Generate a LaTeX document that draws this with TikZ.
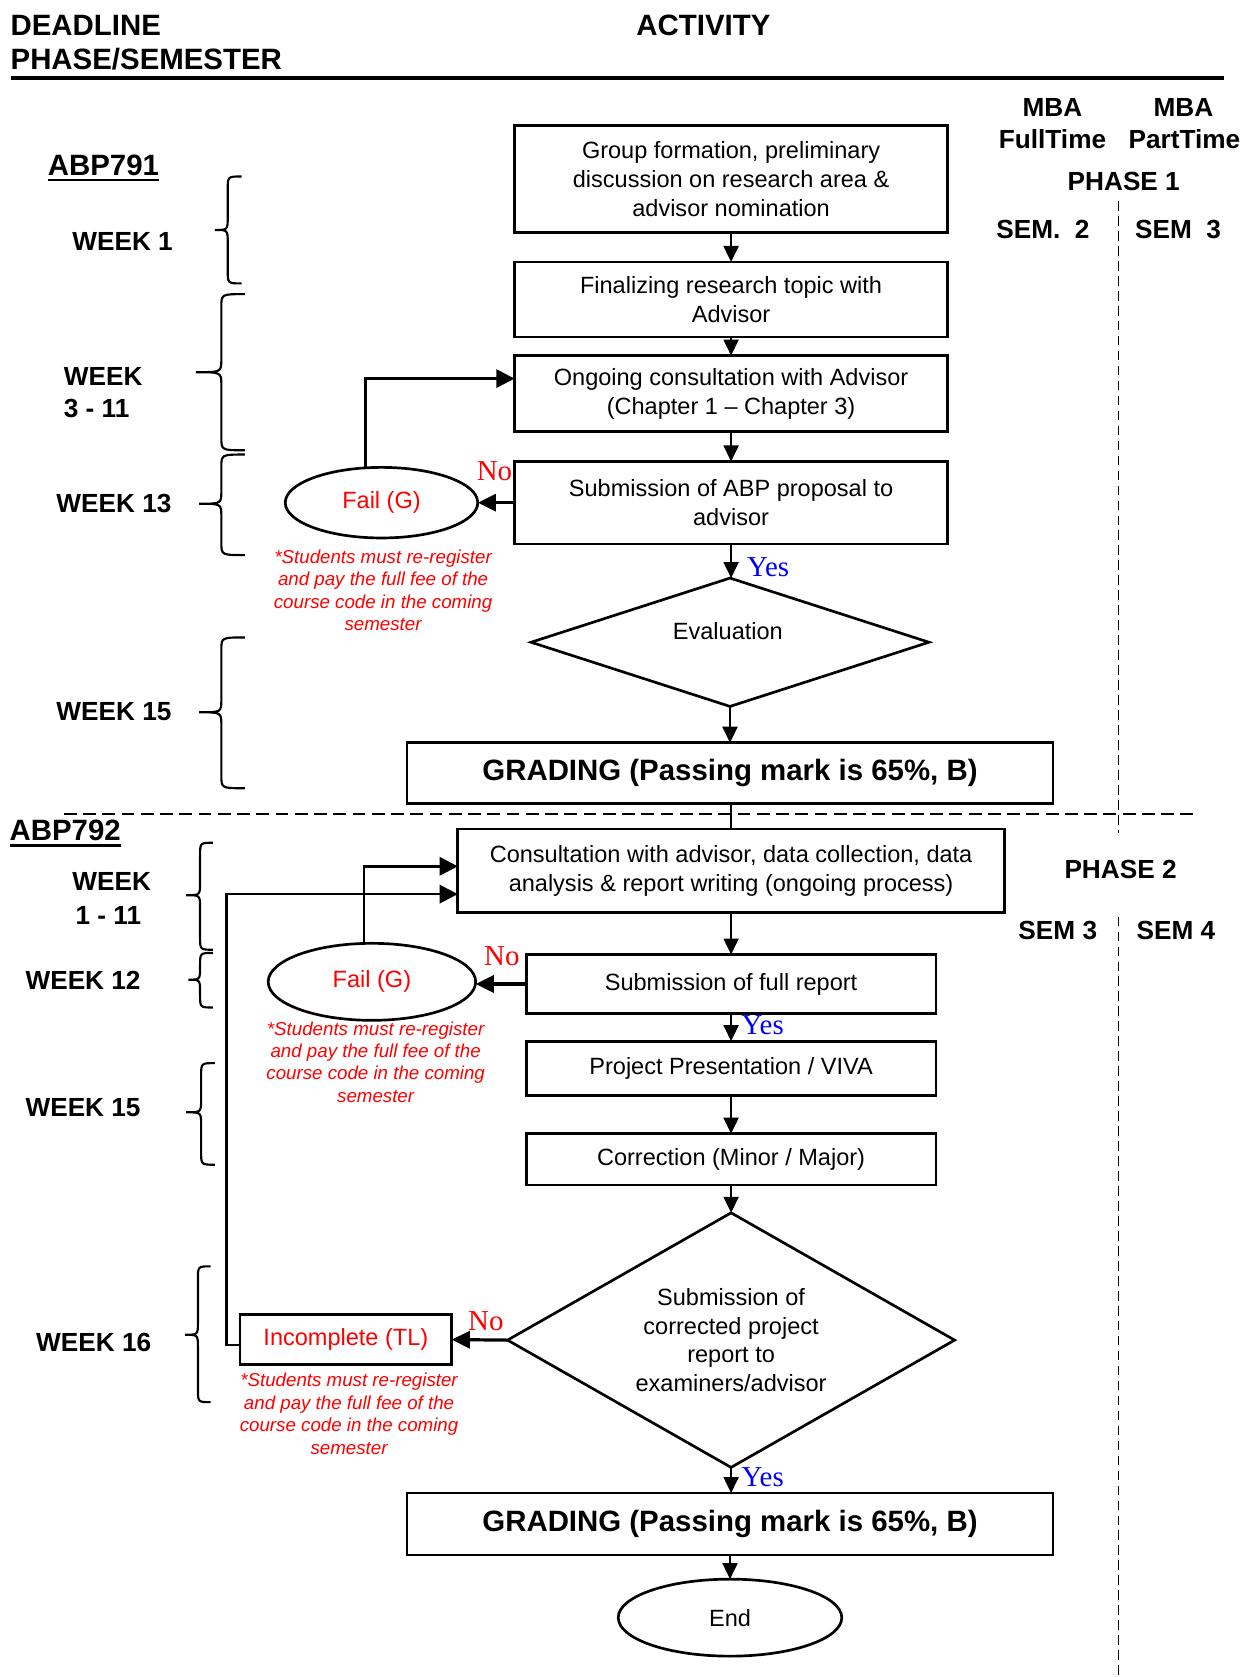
\documentclass[tikz,border=0pt]{standalone}
\usepackage{fontspec}
\setmainfont{Liberation Sans}
\newfontfamily\timesfam{Liberation Serif}
\usetikzlibrary{shapes.geometric,arrows.meta}

% font sizes (1pt = one unit of the drawing grid)
\newcommand\fHead{\fontsize{27.5}{32}\selectfont\bfseries}
\newcommand\fSide{\fontsize{24.5}{30}\selectfont\bfseries}
\newcommand\fBody{\fontsize{22}{27}\selectfont}
\newcommand\fGrade{\fontsize{27.5}{32}\selectfont\bfseries}
\newcommand\fNote{\fontsize{17.5}{21}\selectfont\itshape}
\newcommand\fYN{\fontsize{27}{30}\selectfont\timesfam}

% curly brace: end x, spine x, tip x, top y, tip y, bottom y
\newcommand\weekbrace[6]{%
  \draw[bracepen] (#1,#4) .. controls (#2,#4) .. (#2,#4+12)
    -- (#2,#5-12) .. controls (#2,#5) .. (#3,#5)
    .. controls (#2,#5) .. (#2,#5+12)
    -- (#2,#6-12) .. controls (#2,#6) .. (#1,#6);}

\begin{document}
\begin{tikzpicture}[x=0.995pt,y=-1pt,
  every node/.style={inner sep=0pt, outer sep=0pt},
  procbox/.style={draw, line width=2.5pt, rectangle, align=center, font=\fBody},
  gradebox/.style={draw, line width=2.5pt, rectangle, font=\fGrade},
  decision/.style={draw, line width=2.5pt, diamond, align=center, font=\fBody},
  failell/.style={draw, line width=2.5pt, ellipse, text=red, font=\fBody},
  notetext/.style={text=red, align=center, font=\fNote},
  weeklbl/.style={anchor=base west, font=\fSide},
  sidelbl/.style={anchor=base, font=\fSide},
  headlbl/.style={font=\fHead},
  nolbl/.style={anchor=base west, text=red, font=\fYN},
  yeslbl/.style={anchor=base west, text=blue, font=\fYN},
  flow/.style={line width=2pt, -{Triangle[length=15pt,width=14pt]}},
  thickflow/.style={line width=3pt, -{Triangle[length=17pt,width=16pt]}},
  loopflow/.style={line width=2.5pt, -{Triangle[length=17pt,width=17pt]}},
  bracepen/.style={line width=2pt},
  ]
\useasboundingbox (0,0) rectangle (1178.9,1568);

% ---------- header ----------
\node[headlbl, anchor=base west] (hdead) at (10,33) {DEADLINE};
\node[headlbl, anchor=base west] (hphase) at (10,65) {PHASE/SEMESTER};
\node[headlbl, anchor=base] (hact) at (661,33) {ACTIVITY};
\draw[line width=4.5pt] (10,73) -- (1150,73);

\node[sidelbl] (mbaA) at (989,109) {MBA};
\node[sidelbl] (ftA) at (989,139) {FullTime};
\node[sidelbl] (mbaB) at (1112,109) {MBA};
\node[sidelbl] (ptB) at (1113,139) {PartTime};
\node[sidelbl] (phaseA) at (1056,178) {PHASE 1};
\node[sidelbl] (semA) at (980,223) {SEM.\ \ 2};
\node[sidelbl] (semB) at (1107,223) {SEM\ \ 3};
\node[sidelbl] (phaseB) at (1053,821) {PHASE 2};
\node[sidelbl] (semC) at (994,878.5) {SEM 3};
\node[sidelbl] (semD) at (1105,878.5) {SEM 4};

% column and phase separators
\draw[line width=1.6pt, dash pattern=on 9pt off 5pt] (1051,188) -- (1051,779);
\draw[line width=1.6pt, dash pattern=on 9pt off 5pt] (1051,857) -- (1051,1568);
\draw[line width=2.5pt, dash pattern=on 12pt off 6pt] (60,761) -- (1125,761);

% ---------- course codes and weeks ----------
\node[anchor=base west, font=\fHead] (abpA) at (45,164) {ABP791};
\draw[line width=2pt] ([yshift=-4pt]abpA.base west) -- ([yshift=-4pt]abpA.base east);
\node[anchor=base west, font=\fHead] (abpB) at (9,786) {ABP792};
\draw[line width=2pt] ([yshift=-4.5pt]abpB.base west) -- ([yshift=-4.5pt]abpB.base east);

\node[weeklbl] (wkA) at (68,234) {WEEK 1};
\node[weeklbl] (wkBa) at (60,360) {WEEK};
\node[weeklbl] (wkBb) at (60,390) {3 - 11};
\node[weeklbl] (wkC) at (53,479) {WEEK 13};
\node[weeklbl] (wkD) at (53,673.5) {WEEK 15};
\node[weeklbl] (wkEa) at (68,833) {WEEK};
\node[weeklbl] (wkEb) at (71,864) {1 - 11};
\node[weeklbl] (wkF) at (24,925) {WEEK 12};
\node[weeklbl] (wkG) at (24,1044) {WEEK 15};
\node[weeklbl] (wkH) at (34,1264) {WEEK 16};

\weekbrace{227}{214}{202}{165}{215}{265}
\weekbrace{230}{208}{184}{275}{348}{421}
\weekbrace{230}{208}{187}{425}{471}{519}
\weekbrace{230}{208}{187}{596}{666}{737}
\weekbrace{200}{188}{175}{788}{837}{888}
\weekbrace{200}{188}{177}{891}{916}{942}
\weekbrace{202}{189}{175}{994}{1040}{1089}
\weekbrace{198}{186}{174}{1184}{1248}{1311}

% ---------- phase 1 flow ----------
\node[procbox, minimum width=405pt, minimum height=100pt] (group) at (687,167.5)
  {Group formation, preliminary\\discussion on research area \&\\advisor nomination};
\node[procbox, minimum width=405pt, minimum height=70pt] (topic) at (687,280)
  {Finalizing research topic with\\Advisor};
\node[procbox, minimum width=405pt, minimum height=71pt] (consult) at (687,368)
  {Ongoing consultation with Advisor\\(Chapter 1 -- Chapter 3)};
\node[procbox, minimum width=405pt, minimum height=77pt] (proposal) at (687,470)
  {Submission of ABP proposal to\\advisor};
\node[decision, minimum width=372pt, minimum height=120pt] (evalbox) at (686,600.5) {};
\node[font=\fBody] (evaltxt) at (684,590) {Evaluation};
\node[gradebox, minimum width=604pt, minimum height=57pt] (gradeA) at (686,723)
  {GRADING (Passing mark is 65\%, B)};

\node[failell, minimum width=180pt, minimum height=66pt] (failA) at (358.5,470) {Fail (G)};
\node[notetext] (noteA) at (360,552)
  {*Students must re-register\\and pay the full fee of the\\course code in the coming\\semester};

\node[nolbl] (noA) at (448,449) {No};
\node[yeslbl] (yesA) at (702,539) {Yes};

\draw[flow] (group.south) -- (topic.north);
\draw[flow] (topic.south) -- (consult.north);
\draw[flow] (consult.south) -- (proposal.north);
\draw[flow] (proposal.south) -- (proposal.south |- evalbox.north);
\draw[flow] (evalbox.south) -- (evalbox.south |- gradeA.north);
\draw[thickflow] (proposal.west) -- (failA.east);
\draw[loopflow] ([xshift=-15pt]failA.north) |- ([yshift=14pt]consult.west);

% ---------- phase 2 flow ----------
\node[procbox, minimum width=511pt, minimum height=78pt] (fullcons) at (687,814)
  {Consultation with advisor, data collection, data\\analysis \& report writing (ongoing process)};
\node[procbox, minimum width=383pt, minimum height=55pt] (fullrep) at (687,920)
  {Submission of full report};
\node[procbox, minimum width=383pt, minimum height=51pt] (viva) at (687,999)
  {Project Presentation / VIVA};
\node[procbox, minimum width=383pt, minimum height=48pt] (correct) at (687,1084)
  {Correction (Minor / Major)};
\node[decision, aspect=1.76, minimum width=418pt, minimum height=238pt] (submit) at (687,1253)
  {Submission of\\corrected project\\report to\\examiners/advisor};
\node[gradebox, minimum width=604pt, minimum height=58pt] (gradeB) at (686,1425)
  {GRADING (Passing mark is 65\%, B)};
\node[draw, line width=2.5pt, ellipse, font=\fBody, minimum width=209pt, minimum height=72pt]
  (finish) at (686,1512.5) {End};

\node[failell, minimum width=194pt, minimum height=72pt] (failB) at (349.5,918) {Fail (G)};
\node[notetext] (noteB) at (353,993)
  {*Students must re-register\\and pay the full fee of the\\course code in the coming\\semester};
\node[draw, line width=2.5pt, rectangle, text=red, font=\fBody, minimum width=198pt, minimum height=47pt]
  (incomp) at (325,1252.5) {Incomplete (TL)};
\node[notetext] (noteC) at (328,1322)
  {*Students must re-register\\and pay the full fee of the\\course code in the coming\\semester};

\node[nolbl] (noB) at (455,903) {No};
\node[yeslbl] (yesB) at (697,967) {Yes};
\node[nolbl] (noC) at (440,1244) {No};
\node[yeslbl] (yesC) at (697,1390) {Yes};

\draw[line width=2pt] (gradeA.south -| fullcons.north) -- (fullcons.north);
\draw[flow] (fullcons.south) -- (fullrep.north);
\draw[flow] (fullrep.south) -- (viva.north);
\draw[flow] (viva.south) -- (correct.north);
\draw[flow] (correct.south) -- (submit.north);
\draw[flow] (submit.south) -- (submit.south |- gradeB.north);
\draw[flow] (gradeB.south) -- (finish.north);
\draw[thickflow] (fullrep.west) -- (fullrep.west -| failB.east);
\draw[thickflow] (submit.west) -- (incomp.east);
\draw[loopflow] ([xshift=-7.5pt]failB.north) |- ([yshift=4pt]fullcons.west);
\coordinate (ret) at (212.8,1257.5);
\draw[loopflow] ([yshift=-5pt]incomp.west) -- (ret) |- ([yshift=-22pt]fullcons.west);
\end{tikzpicture}
\end{document}
